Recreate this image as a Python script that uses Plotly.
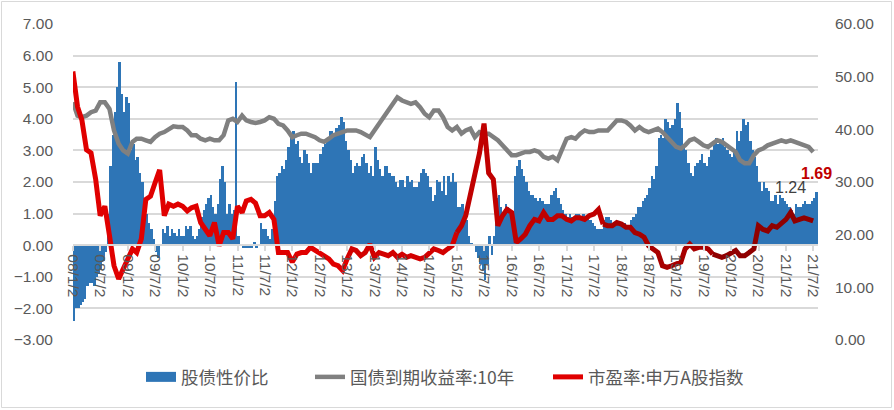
import pandas as pd
import plotly.graph_objects as go

# ---------------- data ----------------
start_month = "2008-01-01"
end_month = "2021-07-01"

# 股债性价比 : two readings per month (first half, second half), 2008-01 .. 2021-07
ratio_values = [
    -2.4, -2.0, -2.0, -1.9, -1.8, -1.7, -1.3, -1.2, -1.2, -1.3, -1.0, -0.9,   # 2008 H1
    -0.8, -0.5, -0.2, 1.0, 2.5, 3.5, 4.2, 5.0, 5.8, 4.8, 4.2, 4.7,          # 2008 H2
    4.5, 3.0, 3.2, 2.7, 2.8, 2.3, 2.0, 1.4, 1.0, 0.7, 0.5, 0.2,             # 2009 H1
    -0.2, -0.4, 0.0, 0.5, 0.4, 0.6, 0.3, 0.5, 0.4, 0.3, 0.5, 0.3,           # 2009 H2
    0.3, 0.6, 0.5, 0.6, 0.3, 0.2, 0.3, 0.5, 0.9, 1.1, 1.3, 1.5,             # 2010 H1
    1.6, 1.2, 1.0, 1.3, 2.1, 2.5, 2.0, 1.0, 1.3, 1.0, 1.1, 5.15,            # 2010 H2
    0.3, 0.0, -0.1, -0.1, -0.1, -0.1, -0.1, 0.1, -0.1, 0.0, 0.7, 0.5,       # 2011 H1
    0.5, 0.3, 0.2, 0.5, 1.4, 2.2, 2.3, 2.5, 2.4, 2.7, 3.1, 3.5,             # 2011 H2
    3.6, 3.2, 3.3, 2.8, 2.6, 3.0, 2.9, 2.6, 2.3, 2.6, 2.6, 2.6,             # 2012 H1
    2.9, 3.1, 3.2, 3.4, 3.6, 3.6, 3.5, 3.7, 3.8, 4.05, 3.9, 3.3,            # 2012 H2
    3.0, 2.7, 2.3, 2.5, 2.6, 2.5, 2.8, 2.9, 2.6, 2.3, 2.5, 2.2,             # 2013 H1
    3.1, 2.7, 2.4, 2.2, 2.5, 2.5, 2.3, 2.2, 2.2, 2.0, 1.85, 2.05,           # 2013 H2
    2.05, 1.85, 2.2, 2.0, 2.05, 1.85, 1.85, 2.0, 2.3, 2.4, 2.3, 2.2,        # 2014 H1
    1.85, 1.4, 1.6, 2.05, 2.0, 1.7, 2.2, 1.6, 2.2, 2.0, 2.3, 2.0,           # 2014 H2
    1.2, 1.2, 1.3, 0.9, 0.8, 0.3, 0.07, 0.0, -0.2, -0.4, -0.6, -0.8,        # 2015 H1
    -1.1, -0.6, 0.3, -0.3, 0.3, 1.5, 1.6, 1.2, 1.0, 1.3, 1.2, 1.0,          # 2015 H2
    0.9, 2.2, 2.5, 2.7, 2.4, 2.2, 2.0, 1.7, 1.6, 1.6, 1.5, 1.4,             # 2016 H1
    1.5, 1.4, 1.3, 1.3, 1.3, 1.6, 1.7, 1.8, 1.5, 1.3, 1.1, 1.0,             # 2016 H2
    0.9, 1.0, 0.9, 0.8, 1.0, 1.0, 0.9, 1.0, 0.9, 0.9, 0.8, 0.7,             # 2017 H1
    0.6, 0.5, 0.5, 0.5, 0.8, 0.9, 0.9, 0.8, 0.6, 0.7, 0.7, 0.7,             # 2017 H2
    0.7, 0.7, 0.5, 0.5, 0.8, 0.9, 1.0, 1.2, 1.2, 1.4, 1.5, 1.6,             # 2018 H1
    1.8, 2.2, 2.1, 2.5, 3.4, 3.5, 3.4, 4.0, 3.9, 3.7, 3.8, 4.0,             # 2018 H2
    4.5, 4.2, 3.7, 3.2, 3.0, 2.6, 2.3, 2.2, 2.5, 2.6, 2.7, 2.9,             # 2019 H1
    2.6, 2.5, 2.8, 3.0, 3.2, 3.4, 3.2, 3.3, 3.4, 3.1, 3.0, 2.9,             # 2019 H2
    2.8, 3.0, 3.6, 3.3, 3.6, 4.0, 3.8, 3.9, 3.3, 3.0, 2.8, 2.5,             # 2020 H1
    2.0, 1.7, 2.0, 1.8, 1.7, 1.4, 1.4, 1.6, 1.3, 1.6, 1.5, 1.4,             # 2020 H2
    1.3, 1.2, 1.1, 1.0, 1.3, 1.2, 1.2, 1.3, 1.4, 1.3, 1.3, 1.4,             # 2021 H1
    1.5, 1.69,                                                              # 2021-07
]

# 国债到期收益率:10年 : one reading per month, 2008-01 .. 2021-07
yield_values = [
    4.52, 4.10, 4.05, 4.10, 4.21, 4.26, 4.52, 4.52, 4.31, 3.63, 3.21, 3.00,
    2.90, 3.27, 3.37, 3.37, 3.32, 3.27, 3.42, 3.53, 3.58, 3.69, 3.76, 3.74,
    3.74, 3.63, 3.48, 3.48, 3.37, 3.32, 3.37, 3.32, 3.32, 3.48, 3.95, 4.00,
    3.90, 4.10, 3.95, 3.90, 3.87, 3.90, 3.95, 4.05, 4.00, 3.84, 3.79, 3.63,
    3.42, 3.48, 3.53, 3.53, 3.48, 3.42, 3.32, 3.27, 3.37, 3.48, 3.53, 3.58,
    3.63, 3.63, 3.63, 3.58, 3.48, 3.42, 3.63, 3.84, 4.05, 4.26, 4.42, 4.68,
    4.58, 4.52, 4.47, 4.52, 4.37, 4.16, 4.05, 4.26, 4.26, 4.05, 3.74, 3.63,
    3.74, 3.53, 3.63, 3.69, 3.42, 3.58, 3.53, 3.53, 3.42, 3.32, 3.16, 3.00,
    2.85, 2.85, 2.90, 2.95, 2.95, 3.00, 2.95, 2.80, 2.74, 2.80, 2.69, 3.06,
    3.37, 3.42, 3.37, 3.53, 3.63, 3.58, 3.58, 3.63, 3.63, 3.63, 3.79, 3.95,
    3.95, 3.90, 3.79, 3.63, 3.74, 3.63, 3.58, 3.63, 3.69, 3.58, 3.42, 3.27,
    3.11, 3.06, 3.16, 3.32, 3.37, 3.27, 3.16, 3.11, 3.21, 3.32, 3.27, 3.16,
    3.06, 2.95, 2.69, 2.59, 2.59, 2.85, 3.00, 3.06, 3.16, 3.21, 3.27, 3.32,
    3.27, 3.32, 3.27, 3.21, 3.16, 3.11, 2.95,
]

# 市盈率:申万A股指数 : one reading per month, 2008-01 .. 2021-07
pe_values = [
    51.0, 44.3, 41.8, 36.1, 35.5, 30.5, 23.6, 25.4, 19.8, 14.1, 11.6, 13.5,
    15.4, 17.3, 16.6, 19.2, 26.7, 27.3, 29.8, 32.3, 23.6, 25.8, 25.4, 25.8,
    25.4, 24.5, 25.1, 25.4, 22.3, 21.0, 19.8, 22.3, 17.9, 20.4, 20.4, 19.2,
    25.4, 24.2, 26.4, 26.7, 26.0, 23.6, 23.6, 24.2, 22.9, 16.6, 16.6, 16.6,
    14.8, 16.3, 16.6, 16.6, 17.6, 17.0, 16.6, 16.0, 15.4, 14.4, 14.1, 13.2,
    15.4, 17.3, 17.0, 16.0, 16.6, 18.2, 15.7, 16.6, 16.3, 16.0, 16.6, 15.7,
    16.3, 15.7, 16.0, 15.7, 15.4, 15.7, 16.6, 17.3, 17.0, 16.6, 17.3, 17.9,
    20.4, 21.7, 23.6, 28.0, 31.7, 35.5, 41.1, 31.7, 30.5, 21.7, 23.6, 24.8,
    24.2, 18.5, 19.2, 20.1, 21.7, 22.9, 22.6, 24.2, 22.9, 22.9, 23.6, 23.6,
    22.9, 22.6, 23.2, 23.2, 22.9, 23.6, 23.9, 24.8, 22.0, 21.7, 21.7, 22.3,
    22.0, 21.4, 21.4, 20.4, 20.1, 19.5, 17.9, 17.3, 16.6, 14.1, 13.8, 14.1,
    14.4, 14.8, 17.3, 18.2, 17.3, 17.6, 17.6, 17.3, 16.3, 16.0, 15.7, 16.0,
    16.6, 17.0, 16.0, 16.0, 16.6, 17.3, 21.7, 21.0, 20.7, 21.7, 21.4, 22.0,
    22.9, 24.2, 22.6, 22.9, 23.2, 22.9, 22.6,
]

tick_years = list(range(2008, 2022))
tick_months = [1, 7]
tick_dates = [pd.Timestamp(y, m, 2) for y in tick_years for m in tick_months]
tick_labels = [f"{d.year % 100:02d}/{d.month}/2" for d in tick_dates]

# ---------------- build the figure ----------------
months = pd.date_range(start_month, end_month, freq="MS")
bar_dates = []
for d in months:
    bar_dates.append(d + pd.Timedelta(days=7))
    bar_dates.append(d + pd.Timedelta(days=22))

BLUE = "#2E75B6"
GREY = "#808080"
TXT = "#595959"
GRID = "#D9D9D9"
DAY_MS = 86400000

fig = go.Figure()
fig.add_trace(go.Bar(x=bar_dates, y=ratio_values, name="股债性价比", showlegend=False,
                     width=16.5 * DAY_MS,
                     marker=dict(color=BLUE, line=dict(width=0)), yaxis="y"))
# legend key for the bars (wide blue block like the reference)
fig.add_trace(go.Scatter(x=[None], y=[None], name="股债性价比", mode="lines",
                         line=dict(color=BLUE, width=10), legend="legend", yaxis="y"))
fig.add_trace(go.Scatter(x=months, y=yield_values, name="国债到期收益率:10年", mode="lines",
                         line=dict(color=GREY, width=4.5), legend="legend2", yaxis="y"))

# PE line drawn in segments whose red darkens over time (as in the reference)
segments = [(0, 60, "#E00000"), (60, 84, "#D20000"), (84, 116, "#C00000"),
            (116, 140, "#A80000"), (140, len(pe_values) - 1, "#900000")]
for i, (a, b, col) in enumerate(segments):
    fig.add_trace(go.Scatter(x=months[a:b + 1], y=pe_values[a:b + 1],
                             name="市盈率:申万A股指数", legendgroup="pe", legend="legend3",
                             showlegend=(i == 0), mode="lines",
                             line=dict(color=col, width=5), yaxis="y2"))

L, R, T, B = 73, 818, 24, 340
W, H = 894, 410
pw, ph = R - L, B - T

def px(x):
    return (x - L) / pw

def py(y):
    return (B - y) / ph

tick_font = dict(family="Liberation Sans, Arial, sans-serif", size=15.5, color=TXT)
leg_font = dict(family="Noto Sans CJK SC, sans-serif", size=17.5, color=TXT)

def leg(x_left):
    return dict(orientation="h", x=px(x_left), y=py(377), xanchor="left", yanchor="middle",
                font=leg_font, bgcolor="rgba(0,0,0,0)", itemwidth=30, borderwidth=0)

fig.update_layout(
    width=W, height=H,
    margin=dict(l=L, r=W - R, t=T, b=H - B, pad=0),
    paper_bgcolor="white", plot_bgcolor="white",
    bargap=0, barmode="overlay",
    showlegend=True,
    legend=leg(141), legend2=leg(310), legend3=leg(548),
    xaxis=dict(type="date", range=["2008-01-02", "2021-08-02"],
               tickmode="array", tickvals=tick_dates, ticktext=tick_labels,
               tickangle=90, tickfont=tick_font,
               showgrid=False, showline=True, linecolor=GRID, linewidth=2,
               ticks="outside", ticklen=5, tickcolor=GRID, tickwidth=1.5,
               anchor="free", position=0.3, zeroline=False),
    yaxis=dict(range=[-3, 7], dtick=1, tick0=0, tickformat=".2f",
               showgrid=True, gridcolor=GRID, gridwidth=2, zeroline=False,
               showline=False, tickfont=tick_font, ticklabelstandoff=19),
    yaxis2=dict(range=[0, 60], dtick=10, tick0=0, tickformat=".2f",
                overlaying="y", side="right", showgrid=False, zeroline=False,
                showline=False, tickfont=tick_font, ticklabelstandoff=16),
    annotations=[
        dict(x=px(790), y=py(187), xref="paper", yref="paper", text="1.24",
             xanchor="center", yanchor="middle", showarrow=False,
             font=dict(family="Liberation Sans, Arial", size=16, color="#404040")),
        dict(x=px(816), y=py(173.5), xref="paper", yref="paper", text="<b>1.69</b>",
             xanchor="center", yanchor="middle", showarrow=False,
             font=dict(family="Liberation Sans, Arial", size=16, color="#C00000")),
    ],
    shapes=[dict(type="rect", xref="paper", yref="paper", layer="below",
                 x0=px(1.5), x1=px(891.5), y0=py(407.5), y1=py(1.5),
                 line=dict(color=GRID, width=1))],
)

fig.write_html("out.html")
